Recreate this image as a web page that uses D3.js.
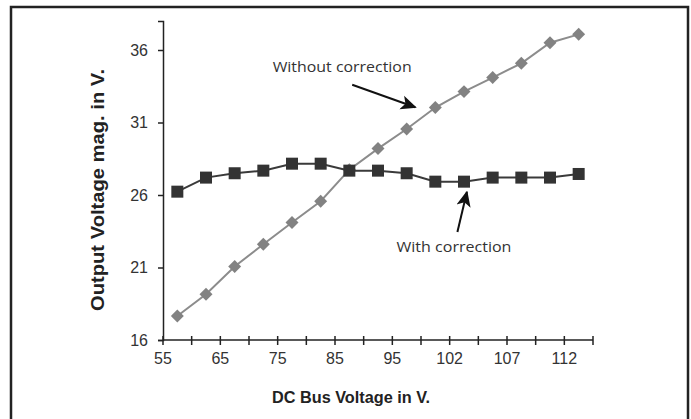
<!DOCTYPE html>
<html>
<head>
<meta charset="utf-8">
<script src="https://cdn.jsdelivr.net/npm/d3@7"></script>
<style>
  body { margin: 0; background: #fff; }
  svg { display: block; }
</style>
</head>
<body>
<div id="chart"></div>
<script>
// 15 measurements, labels only sit on every second tick
const xTickLabels = ['55', '65', '75', '85', '95', '102', '107', '112']
const withoutCorrection = [17.66, 19.15, 21.07, 22.6, 24.1, 25.57, 27.75, 29.2, 30.55, 32.03, 33.13, 34.1, 35.08, 36.5, 37.08]
const withCorrection = [26.23, 27.2, 27.5, 27.68, 28.16, 28.16, 27.68, 27.68, 27.5, 26.92, 26.92, 27.2, 27.2, 27.2, 27.45]
const yTicks = [16, 21, 26, 31, 36]

// annotation text + arrow, in data units (index, value)
const notes = [
    { text: 'Without correction', tx: 5.75, ty: 34.75, len: 139, from: [6.1, 33.6], to: [8.3, 32.05] },
    { text: 'With correction', tx: 9.65, ty: 22.35, len: 115, from: [9.77, 23.45], to: [10.1, 26.2] }
]

const W = 691, H = 419
const n = withCorrection.length
const sans = 'Liberation Sans, Arial, sans-serif'

const svg = d3.select('#chart').append('svg')
    .attr('width', W)
    .attr('height', H)

// frame round the figure
svg.append('rect')
    .attr('x', 11).attr('y', 7)
    .attr('width', 677).attr('height', 430)
    .attr('fill', 'none')
    .attr('stroke', '#222')
    .attr('stroke-width', 2.5)

const x = d3.scaleLinear().domain([-0.5, n - 0.5]).range([163, 593])
const y = d3.scaleLinear().domain([16, 38]).range([340, 21])

// y axis
const yAxis = svg.append('g').attr('transform', `translate(${x(-0.5)},0)`)
    .call(d3.axisLeft(y).tickValues(yTicks).tickSize(5).tickPadding(10))
yAxis.select('.domain').attr('stroke', '#222').attr('stroke-width', 1.5)
yAxis.selectAll('.tick line').attr('stroke', '#222').attr('stroke-width', 1.5)
yAxis.selectAll('.tick text')
    .attr('font-family', sans)
    .attr('font-size', 16).attr('fill', '#333')

// x axis: a tick at every category border, cross style
const tickIdx = d3.range(n + 1).map(k => k - 0.5)
const xAxis = svg.append('g').attr('transform', `translate(0,${y(16)})`)
xAxis.append('line')
    .attr('x1', x(-0.5)).attr('x2', x(n - 0.5))
    .attr('stroke', '#222').attr('stroke-width', 1.5)
xAxis.selectAll('line.tk').data(tickIdx).enter().append('line')
    .attr('class', 'tk')
    .attr('x1', d => x(d)).attr('x2', d => x(d))
    .attr('y1', -4).attr('y2', 5)
    .attr('stroke', '#222').attr('stroke-width', 1.5)
xAxis.selectAll('text').data(xTickLabels).enter().append('text')
    .attr('x', (d, i) => x(i * 2 - 0.5))
    .attr('y', 24)
    .attr('text-anchor', 'middle')
    .attr('font-family', sans)
    .attr('font-size', 16).attr('fill', '#333')
    .text(d => d)

// axis titles
svg.append('text')
    .attr('x', 351)
    .attr('y', 403)
    .attr('text-anchor', 'middle')
    .attr('font-family', sans)
    .attr('font-weight', 'bold')
    .attr('font-size', 16).attr('fill', '#222')
    .attr('textLength', 158)
    .attr('lengthAdjust', 'spacingAndGlyphs')
    .text('DC Bus Voltage in V.')

svg.append('text')
    .attr('transform', `translate(104,${y(26) - 5}) rotate(-90)`)
    .attr('text-anchor', 'middle')
    .attr('font-family', sans)
    .attr('font-weight', 'bold')
    .attr('font-size', 18).attr('fill', '#222')
    .attr('textLength', 242)
    .attr('lengthAdjust', 'spacingAndGlyphs')
    .text('Output Voltage mag. in V.')

const line = d3.line().x((d, i) => x(i)).y(d => y(d))

// without correction: grey line with diamonds
svg.append('path').datum(withoutCorrection)
    .attr('d', line)
    .attr('fill', 'none')
    .attr('stroke', '#8c8c8c')
    .attr('stroke-width', 2)
svg.selectAll('path.diamond').data(withoutCorrection).enter().append('path')
    .attr('class', 'diamond')
    .attr('d', d3.symbol(d3.symbolSquare, 84))
    .attr('transform', (d, i) => `translate(${x(i)},${y(d)}) rotate(45)`)
    .attr('fill', '#828282')

// with correction: dark line with squares
svg.append('path').datum(withCorrection)
    .attr('d', line)
    .attr('fill', 'none')
    .attr('stroke', '#3a3a3a')
    .attr('stroke-width', 2)
svg.selectAll('rect.sq').data(withCorrection).enter().append('rect')
    .attr('class', 'sq')
    .attr('x', (d, i) => x(i) - 6)
    .attr('y', d => y(d) - 6)
    .attr('width', 12).attr('height', 12)
    .attr('fill', '#333')

// arrows
svg.append('defs').append('marker')
    .attr('id', 'head')
    .attr('viewBox', '0 0 10 10')
    .attr('refX', 9).attr('refY', 5)
    .attr('markerWidth', 8).attr('markerHeight', 8)
    .attr('markerUnits', 'strokeWidth')
    .attr('orient', 'auto')
    .append('path')
    .attr('d', 'M0,0.5 L10,5 L0,9.5 L2.5,5 z')
    .attr('fill', '#111')

notes.forEach(a => {
    svg.append('line')
        .attr('x1', x(a.from[0])).attr('y1', y(a.from[1]))
        .attr('x2', x(a.to[0])).attr('y2', y(a.to[1]))
        .attr('stroke', '#111').attr('stroke-width', 2)
        .attr('marker-end', 'url(#head)')
    svg.append('text')
        .attr('x', x(a.tx)).attr('y', y(a.ty))
        .attr('text-anchor', 'middle')
        .attr('dominant-baseline', 'middle')
        .attr('font-family', 'Open Sans, sans-serif')
        .attr('font-size', 15).attr('fill', '#333')
        .attr('textLength', a.len)
        .attr('lengthAdjust', 'spacingAndGlyphs')
        .text(a.text)
})
</script>
</body>
</html>
